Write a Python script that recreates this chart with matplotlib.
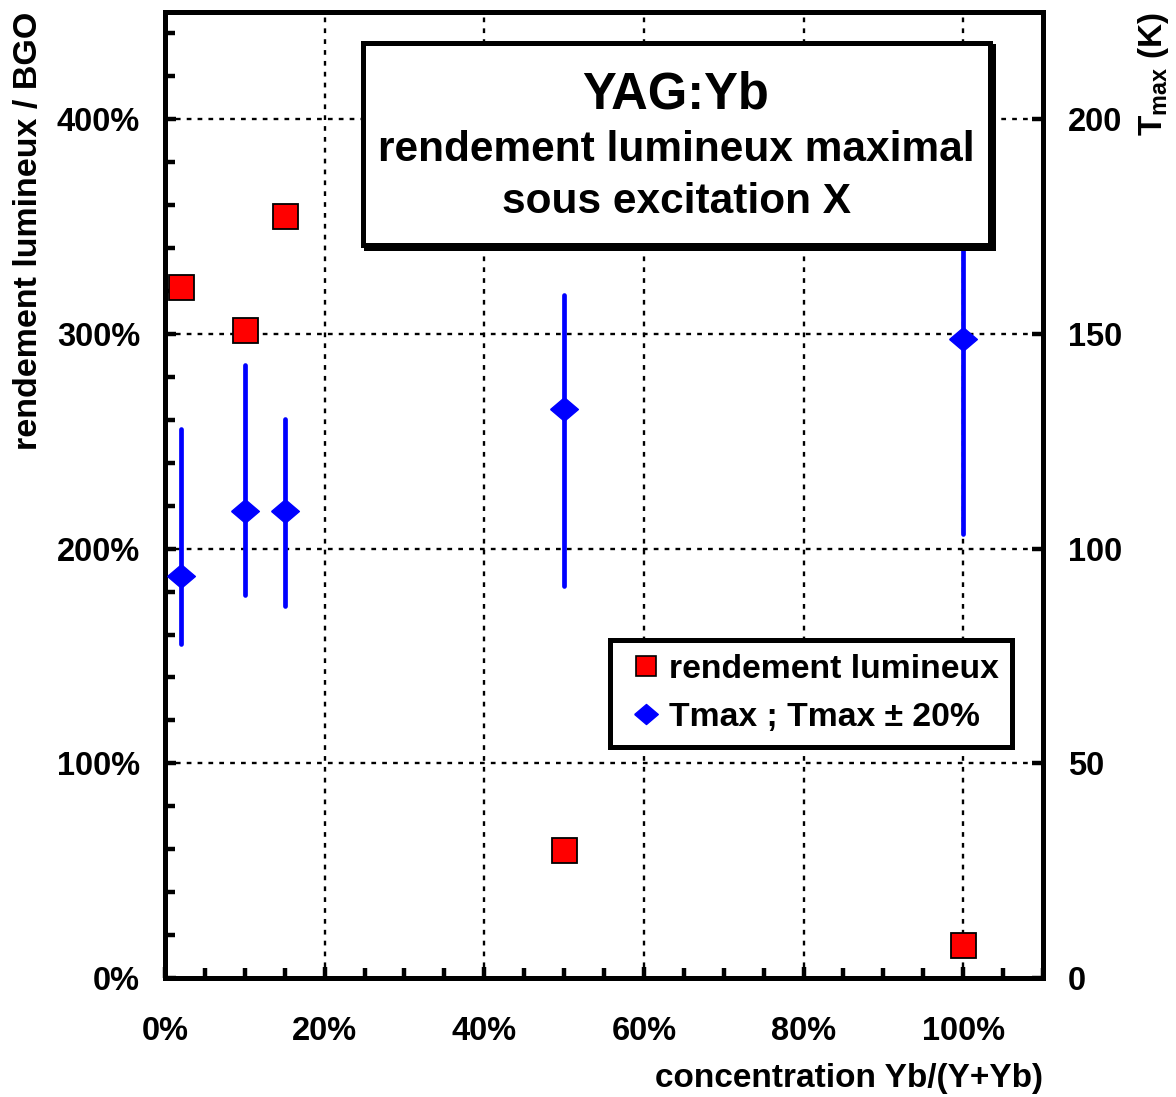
import matplotlib
matplotlib.use("Agg")
import matplotlib.pyplot as plt
from matplotlib.patches import Rectangle
from matplotlib.lines import Line2D
from matplotlib.ticker import MultipleLocator, FuncFormatter

plt.rcParams['font.family'] = ['Liberation Sans', 'DejaVu Sans']
plt.rcParams['font.weight'] = 'bold'
plt.rcParams['mathtext.fontset'] = 'custom'
plt.rcParams['mathtext.rm'] = 'Liberation Sans:bold'
plt.rcParams['mathtext.it'] = 'Liberation Sans:bold'
plt.rcParams['mathtext.bf'] = 'Liberation Sans:bold'

# ---- data ----
conc_pct = [2, 10, 15, 50, 100]                 # concentration Yb/(Y+Yb) in %
rendement_pct = [322, 302, 355, 59.5, 15.5]     # light yield / BGO in %
tmax_K = [93.7, 108.8, 108.8, 132.5, 148.8]     # Tmax (K)
tmax_low = [77.7, 89.3, 86.7, 91.3, 103.5]      # lower end of Tmax range
tmax_high = [127.8, 142.8, 130.3, 159.1, 179.0] # upper end of Tmax range

x_ticks = [0, 20, 40, 60, 80, 100]
y_ticks = [0, 100, 200, 300, 400]
y2_ticks = [0, 50, 100, 150, 200]

W, H = 1176, 1097
fig = plt.figure(figsize=(W / 100, H / 100), dpi=100)
ax = fig.add_axes([165 / W, 1 - 978 / H, (1043 - 165) / W, (978 - 12) / H])
ax2 = ax.twinx()

ax.set_xlim(0, 110)
ax.set_ylim(0, 450)
ax2.set_ylim(0, 225)

for a in (ax, ax2):
    for s in a.spines.values():
        s.set_linewidth(3.6)

# squares
ax.plot(conc_pct, rendement_pct, linestyle='none', marker='s', markersize=18,
        markerfacecolor='#ff0000', markeredgecolor='black', markeredgewidth=1.3,
        zorder=5, clip_on=False)

# Tmax with ranges
err_lo = [t - l for t, l in zip(tmax_K, tmax_low)]
err_hi = [h - t for t, h in zip(tmax_K, tmax_high)]
diamond = [(-1, 0), (0, 0.85), (1, 0), (0, -0.85), (-1, 0)]
eb = ax2.errorbar(conc_pct, tmax_K, yerr=[err_lo, err_hi], fmt='none',
                  ecolor='#0000ff', elinewidth=3.4, capsize=0, zorder=4)
for lc in eb[2]:
    lc.set_capstyle('round')
ax2.plot(conc_pct, tmax_K, linestyle='none', marker=diamond, markersize=20,
         markerfacecolor='#0000ff', markeredgecolor='#0000ff', zorder=6)

# ticks
ax.xaxis.set_major_locator(MultipleLocator(20))
ax.xaxis.set_minor_locator(MultipleLocator(5))
ax.set_xticks(x_ticks)
ax.xaxis.set_major_formatter(FuncFormatter(lambda v, p: f"{int(round(v))}%"))
ax.set_yticks(y_ticks)
ax.yaxis.set_minor_locator(MultipleLocator(20))
ax.yaxis.set_major_formatter(FuncFormatter(lambda v, p: f"{int(round(v))}%"))
ax2.set_yticks(y2_ticks)

ax.tick_params(axis='both', which='major', direction='in', length=8, width=3.2,
               labelsize=23.5, top=False, right=False)
ax.tick_params(axis='both', which='minor', direction='in', length=7, width=3.2,
               top=False, right=False)
ax.tick_params(axis='x', which='major', pad=27)
ax.tick_params(axis='y', which='major', pad=18)
ax2.tick_params(axis='y', which='major', direction='in', length=8, width=3.2,
                labelsize=23.5, pad=18)
ax2.tick_params(axis='y', which='minor', right=False)

for lab in ax.get_xticklabels() + ax.get_yticklabels() + ax2.get_yticklabels():
    lab.set_fontweight('bold')

ax.grid(True, which='major', color='black', linestyle=(0, (2, 2.6)), linewidth=1.7)
ax.set_axisbelow(True)

ax.set_xlabel('concentration Yb/(Y+Yb)', fontsize=24, fontweight='bold', loc='right', labelpad=12)
ax.set_ylabel('rendement lumineux / BGO', fontsize=24.5, fontweight='bold', loc='top', labelpad=9)
ax2.set_ylabel(r'T$_{\mathrm{max}}$ (K)', fontsize=24, fontweight='bold', loc='top', labelpad=10)

# legend
handles = [
    Line2D([], [], linestyle='none', marker='s', markersize=15, markerfacecolor='#ff0000',
           markeredgecolor='black', markeredgewidth=1.2),
    Line2D([], [], linestyle='none', marker=diamond, markersize=17, markerfacecolor='#0000ff',
           markeredgecolor='#0000ff'),
]
leg = ax2.legend(handles, ['rendement lumineux', 'Tmax ; Tmax ± 20%'],
                 loc='upper left', bbox_to_anchor=(610 / W, 1 - 640 / H),
                 bbox_transform=fig.transFigure, borderaxespad=0, fancybox=False,
                 framealpha=1, edgecolor='black', borderpad=0.4,
                 handlelength=1.35, handletextpad=0.0, labelspacing=0.52,
                 prop={'weight': 'bold', 'size': 24.3})
leg.get_frame().set_linewidth(3.6)
leg.set_zorder(20)

# title box
def px_rect(x0, y0, x1, y1, **kw):
    return Rectangle((x0 / W, 1 - y1 / H), (x1 - x0) / W, (y1 - y0) / H,
                     transform=fig.transFigure, **kw)

fig.add_artist(px_rect(366, 46, 993, 248, facecolor='black', edgecolor='black',
                       linewidth=3.6, zorder=10))
fig.add_artist(px_rect(363, 43, 990, 245, facecolor='white', edgecolor='black',
                       linewidth=3.6, zorder=11))
fig.text(676 / W, 1 - 95 / H, 'YAG:Yb', fontsize=36.5, fontweight='bold',
         ha='center', va='center', zorder=12)
fig.text(676 / W, 1 - 150 / H, 'rendement lumineux maximal', fontsize=30.5,
         fontweight='bold', ha='center', va='center', zorder=12)
fig.text(676 / W, 1 - 202 / H, 'sous excitation X', fontsize=30.5,
         fontweight='bold', ha='center', va='center', zorder=12)

fig.savefig('out.png', dpi=100)
